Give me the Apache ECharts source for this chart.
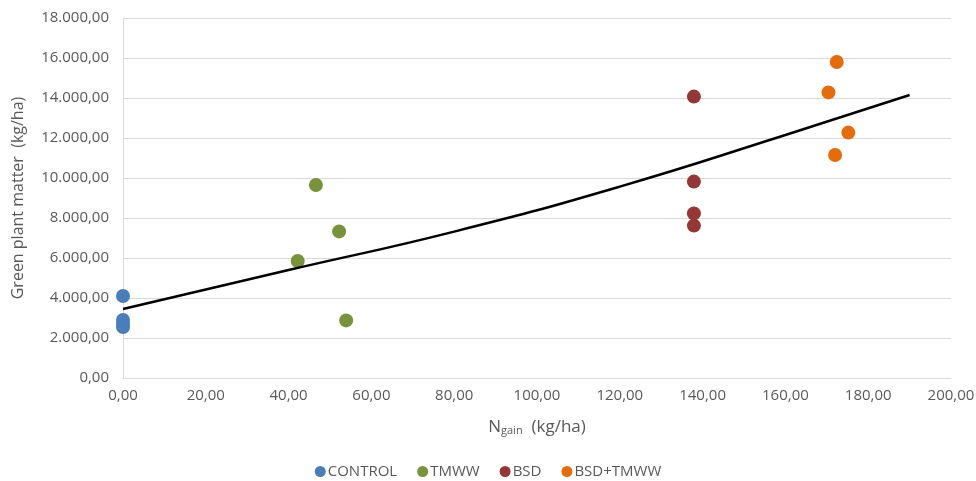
<!DOCTYPE html>
<html>
<head>
<meta charset="utf-8">
<script src="https://cdn.jsdelivr.net/npm/echarts@6/dist/echarts.min.js"></script>
<style>html,body{margin:0;padding:0;background:#fff;}#c{width:976px;height:481px;}</style>
</head>
<body>
<div id="c"></div>
<script>
const controlX = [0, 0, 0, 0];
const controlY = [4100, 2900, 2700, 2550];
const tmwwX = [46.6, 42.2, 52.2, 53.9];
const tmwwY = [9650, 5850, 7330, 2880];
const bsdX = [137.9, 137.9, 137.9, 137.9];
const bsdY = [14070, 9820, 8230, 7620];
const bsdTmwwX = [172.4, 170.4, 175.2, 172.0];
const bsdTmwwY = [15800, 14280, 12270, 11150];
const trendX = [0, 40, 80, 120, 160, 190];
const trendY = [3450, 5400, 7320, 9570, 12150, 14150];

function pairs(xs, ys) { return xs.map((x, i) => [x, ys[i]]); }
function fmt(v, dec) {
  const s = v.toFixed(dec).split('.');
  const int = s[0].replace(/\B(?=(\d{3})+(?!\d))/g, '.');
  return int + ',' + s[1];
}

const font = '"Open Sans", "Liberation Sans", sans-serif';
const gray = '#595959';
const chart = echarts.init(document.getElementById('c'));
const mk = (name, color, data) => ({
  name, type: 'scatter', data, symbol: 'circle', symbolSize: 14,
  itemStyle: { color, opacity: 1 }, clip: false, z: 3
});
chart.setOption({
  animation: false,
  textStyle: { fontFamily: font },
  grid: { left: 123, right: 25, top: 18, bottom: 103, outerBoundsMode: 'none', containLabel: false },
  xAxis: {
    type: 'value', min: 0, max: 200, interval: 20,
    axisLine: { lineStyle: { color: '#d9d9d9' } },
    axisTick: { show: false },
    splitLine: { show: false },
    axisLabel: { color: gray, fontSize: 15, margin: 10, formatter: v => fmt(v, 2) },
    name: '{n|N}{s|gain}{n|  (kg/ha)}', nameLocation: 'middle', nameGap: 40,
    nameTextStyle: { rich: { n: { fontSize: 17, color: gray, fontFamily: font }, s: { fontSize: 11, color: gray, verticalAlign: 'bottom', padding: [7, 0, 0, 0], fontFamily: font } } }
  },
  yAxis: {
    type: 'value', min: 0, max: 18000, interval: 2000,
    axisLine: { show: true, lineStyle: { color: '#d9d9d9' } },
    axisTick: { show: false },
    splitLine: { lineStyle: { color: '#d9d9d9' } },
    axisLabel: { color: gray, fontSize: 15, margin: 14, formatter: v => fmt(v, 2) },
    name: 'Green plant matter  (kg/ha)', nameLocation: 'middle', nameGap: 97,
    nameTextStyle: { color: gray, fontSize: 16 }
  },
  legend: {
    bottom: -3, left: 'center', itemGap: 20, itemWidth: 11, itemHeight: 11,
    icon: 'circle',
    textStyle: { color: gray, fontSize: 15, padding: [0, 0, 0, -3] },
    data: ['CONTROL', 'TMWW', 'BSD', 'BSD+TMWW']
  },
  series: [
    mk('CONTROL', '#4a7ebb', pairs(controlX, controlY)),
    mk('TMWW', '#77933c', pairs(tmwwX, tmwwY)),
    mk('BSD', '#953735', pairs(bsdX, bsdY)),
    mk('BSD+TMWW', '#e46c0a', pairs(bsdTmwwX, bsdTmwwY)),
    { name: 'trend', type: 'line', data: pairs(trendX, trendY), smooth: true, showSymbol: false,
      lineStyle: { color: '#000', width: 2.5 }, z: 4, silent: true }
  ]
});
</script>
</body>
</html>
